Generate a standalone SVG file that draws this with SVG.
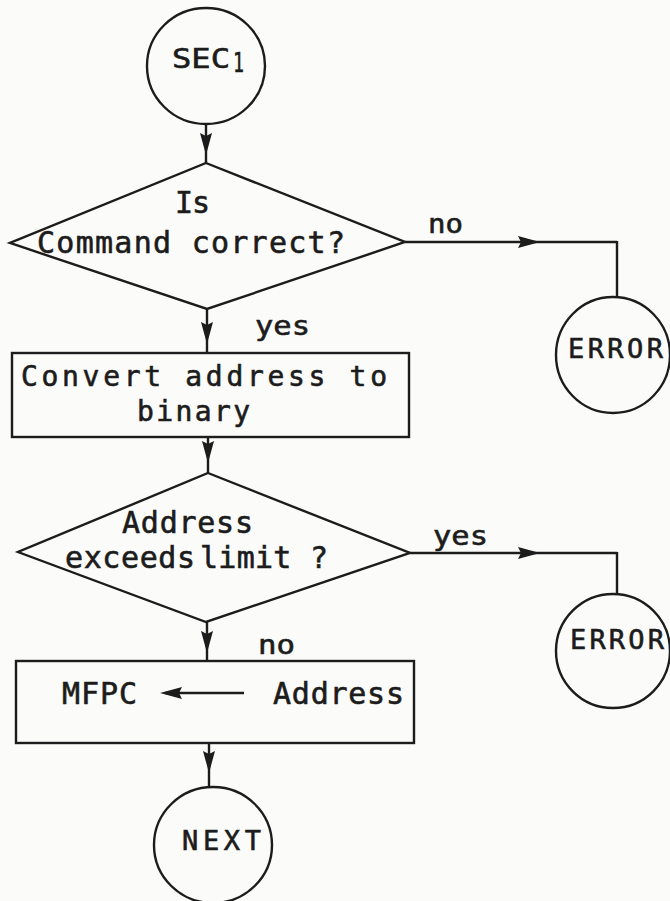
<svg xmlns="http://www.w3.org/2000/svg" width="670" height="901" viewBox="0 0 670 901">
  <style>
    .shape { fill: none; stroke: #1c1c1c; stroke-width: 2.4; stroke-linejoin: miter; }
    .wire { fill: none; stroke: #1c1c1c; stroke-width: 2.4; }
    .arrow { marker-mid: url(#head); }
    .t { font-family: "DejaVu Sans Mono", "Liberation Mono", monospace; fill: #1c1c1c; stroke: #1c1c1c; stroke-width: 0.6; font-size: 30px; }
    .tight { font-size: 28px; }
    .c { font-size: 27px; }
    .lbl { font-size: 27px; }
  </style>
  <defs>
    <marker id="head" viewBox="0 0 22 12" refX="22" refY="6" markerWidth="22" markerHeight="12" markerUnits="userSpaceOnUse" orient="auto">
      <path d="M0,0 L22,6 L0,12 L3,6 Z" fill="#1c1c1c"/>
    </marker>
  </defs>

  <rect width="670" height="901" fill="#fbfbfa"/>

  <!-- connectors: the middle vertex of each arrowed path carries the head -->
  <g id="connectors">
    <path class="wire arrow" d="M206,124 L206,155 L206,163"/>
    <path class="wire arrow" d="M207,309 L207,344 L207,353"/>
    <path class="wire arrow" d="M405,242 L540,242 L617,242"/>
    <path class="wire" d="M617,241 L617,297"/>
    <path class="wire arrow" d="M208,437 L208,463 L208,473"/>
    <path class="wire arrow" d="M410,553 L540,553 L617,553"/>
    <path class="wire" d="M617,552 L617,594"/>
    <path class="wire arrow" d="M207,622 L207,653 L207,661"/>
    <path class="wire arrow" d="M209,743 L209,773 L209,787"/>
    <text class="t lbl" x="428" y="233" textLength="35" lengthAdjust="spacingAndGlyphs">no</text>
    <text class="t lbl" x="255" y="335" textLength="55" lengthAdjust="spacingAndGlyphs">yes</text>
    <text class="t lbl" x="433" y="545" textLength="55" lengthAdjust="spacingAndGlyphs">yes</text>
    <text class="t lbl" x="258" y="654" textLength="37" lengthAdjust="spacingAndGlyphs">no</text>
  </g>

  <g id="sec1">
    <ellipse class="shape" cx="206" cy="66" rx="59" ry="58"/>
    <text class="t c" x="172" y="68"><tspan textLength="58" lengthAdjust="spacingAndGlyphs">SEC</tspan><tspan x="233" dy="4" textLength="11" lengthAdjust="spacingAndGlyphs">1</tspan></text>
  </g>

  <g id="check-command">
    <polygon class="shape" points="206,163 405,242 207,309 10,243"/>
    <text class="t" x="175" y="213" textLength="35" lengthAdjust="spacing">Is</text>
    <text class="t" x="37" y="253" textLength="308" lengthAdjust="spacing">Command correct?</text>
  </g>

  <g id="error-1">
    <ellipse class="shape" cx="613" cy="355" rx="57" ry="58"/>
    <text class="t c" x="568" y="358" textLength="95" lengthAdjust="spacing">ERROR</text>
  </g>

  <g id="convert">
    <rect class="shape" x="12" y="353" width="397" height="84"/>
    <text class="t tight" x="21" y="386" textLength="366" lengthAdjust="spacing">Convert  address to</text>
    <text class="t tight" x="137" y="421" textLength="113" lengthAdjust="spacing">binary</text>
  </g>

  <g id="check-limit">
    <polygon class="shape" points="208,473 410,553 206,622 18,552"/>
    <text class="t" x="122" y="533" textLength="131" lengthAdjust="spacing">Address</text>
    <text class="t"><tspan x="65" y="568" textLength="130" lengthAdjust="spacing">exceeds</tspan> <tspan x="200" y="568" textLength="128" lengthAdjust="spacing">limit ?</tspan></text>
  </g>

  <g id="error-2">
    <ellipse class="shape" cx="613" cy="651" rx="57" ry="57"/>
    <text class="t c" x="570" y="649" textLength="94" lengthAdjust="spacing">ERROR</text>
  </g>

  <g id="load-mfpc">
    <rect class="shape" x="16" y="661" width="398" height="82"/>
    <text class="t" x="62" y="704" textLength="75" lengthAdjust="spacing">MFPC</text>
    <path class="wire" d="M244,693 L165,693"/>
    <path d="M160,693 L182,687 L179,693 L182,699 Z" fill="#1c1c1c"/>
    <text class="t" x="273" y="704" textLength="131" lengthAdjust="spacing">Address</text>
  </g>

  <g id="next">
    <ellipse class="shape" cx="213" cy="845" rx="59" ry="58"/>
    <text class="t c" x="182" y="850" textLength="79" lengthAdjust="spacing">NEXT</text>
  </g>
</svg>
